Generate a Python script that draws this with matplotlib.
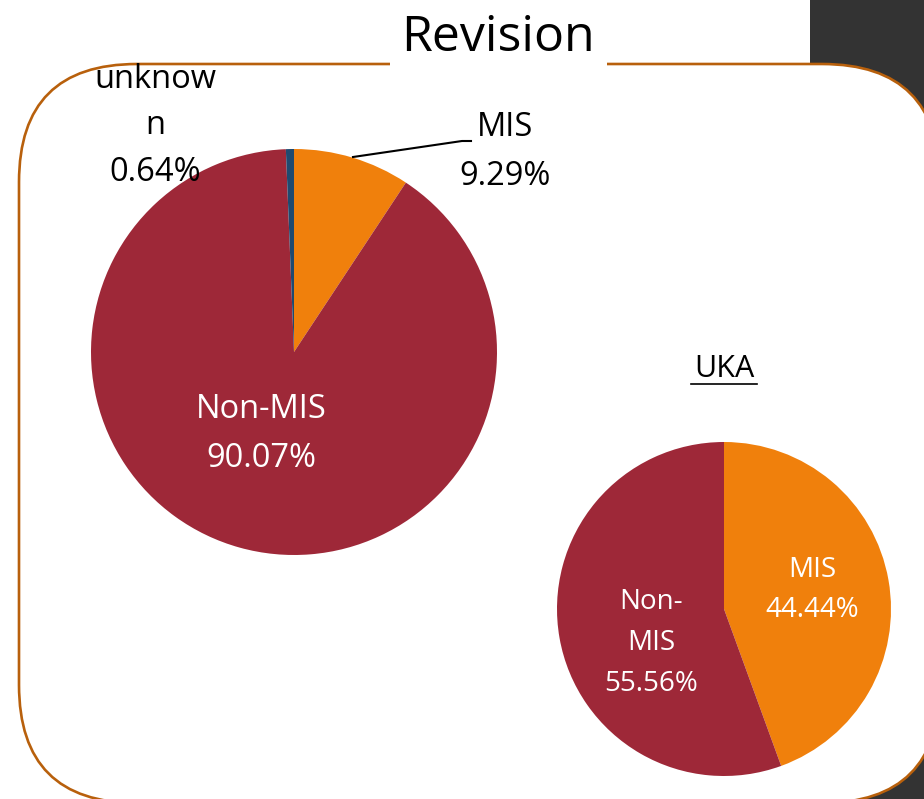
import matplotlib.pyplot as plt
from matplotlib.patches import FancyBboxPatch, Rectangle

plt.rcParams['font.family'] = ['Open Sans', 'DejaVu Sans']

W, H = 924, 799

# data
revision_labels = ['MIS', 'Non-MIS', 'unknown']
revision_values = [9.29, 90.07, 0.64]
uka_labels = ['MIS', 'Non-MIS']
uka_values = [44.44, 55.56]

orange = '#F0800C'
maroon = '#9E2838'
navy = '#1F4A70'
border = '#B8600C'


def Y(y):
    return H - y


fig = plt.figure(figsize=(W / 100, H / 100), dpi=100)
ax = fig.add_axes([0, 0, 1, 1])

# dark strip at right, behind the rounded panel
ax.add_patch(Rectangle((810, 0), 200, H, facecolor='#333333', edgecolor='none', zorder=0))
panel = FancyBboxPatch((19, Y(803)), 940 - 19, 803 - 64,
                       boxstyle='round,pad=0,rounding_size=118',
                       facecolor='white', edgecolor=border, lw=1.9, zorder=1)
ax.add_patch(panel)

# title with white gap in the border
ax.add_patch(Rectangle((390, Y(75)), 217, 75, facecolor='white', edgecolor='none', zorder=2))
ax.text(498, Y(38), 'Revision', fontsize=36, ha='center', va='center', zorder=3)

# big pie
ax.pie(revision_values, colors=[orange, maroon, navy], startangle=90, counterclock=False,
       center=(294, Y(352)), radius=203, wedgeprops=dict(linewidth=0, zorder=3),
       frame=True)

ax.text(261, Y(434), 'Non-MIS\n%.2f%%' % revision_values[1], color='white', fontsize=23.5,
        ha='center', va='center', linespacing=1.63, zorder=5)
ax.text(505, Y(152), 'MIS\n%.2f%%' % revision_values[0], fontsize=23.5,
        ha='center', va='center', linespacing=1.63, zorder=5)
ax.plot([353, 462, 471], [Y(157), Y(141), Y(141)], color='black', lw=1.5, zorder=5)
ax.text(155, Y(126), 'unknow\nn\n%.2f%%' % revision_values[2], fontsize=23.5,
        ha='center', va='center', linespacing=1.55, zorder=5)

# UKA pie
ax.text(724, Y(369), 'UKA', fontsize=22, ha='center', va='center', zorder=5)
ax.plot([691, 757], [Y(384), Y(384)], color='black', lw=1.2, zorder=5)
ax.pie(uka_values, colors=[orange, maroon], startangle=90, counterclock=False,
       center=(724, Y(609)), radius=167, wedgeprops=dict(linewidth=0, zorder=3),
       frame=True)

ax.text(812, Y(590), 'MIS\n%.2f%%' % uka_values[0], color='white', fontsize=20,
        ha='center', va='center', linespacing=1.6, zorder=5)
ax.text(651, Y(643), 'Non-\nMIS\n%.2f%%' % uka_values[1], color='white', fontsize=20,
        ha='center', va='center', linespacing=1.6, zorder=5)

ax.set_xlim(0, W)
ax.set_ylim(0, H)
ax.set_aspect('equal')
ax.axis('off')

fig.savefig('out.png', dpi=100)
